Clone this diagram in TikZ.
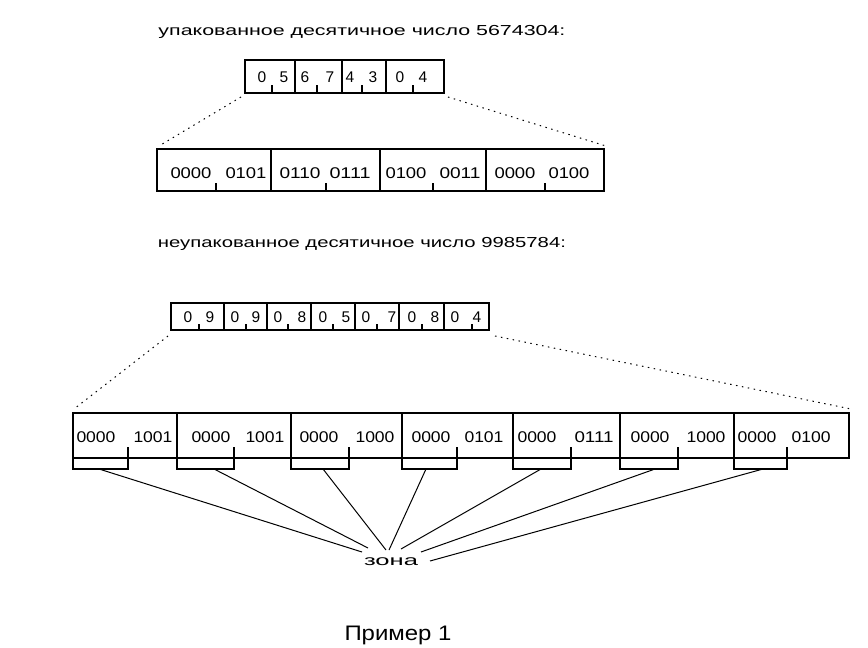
\documentclass[tikz,border=0pt]{standalone}
\usepackage{fontspec}
\setmainfont{Liberation Sans}
\usepackage{graphicx}
\newcommand{\sq}[2]{\resizebox{#1pt}{\height}{#2}}
\begin{document}
\begin{tikzpicture}[x=1pt,y=-1pt,
  every node/.style={inner sep=0pt, outer sep=0pt},
  ln/.style={line width=1.2pt},
  box/.style={draw, line width=1.2pt, anchor=north west},
  dotl/.style={line width=1pt, dash pattern=on 1.5pt off 4.5pt},
  small/.style={font=\fontsize{15.5}{17}\selectfont},
  dig/.style={small, anchor=center},
  lbl/.style={font=\fontsize{14.5}{16}\selectfont, anchor=base}]
\useasboundingbox (0,0) rectangle (868,648);

% titles
\node[lbl] (t1) at (362,35) {\sq{407}{упакованное десятичное число 5674304:}};
\node[lbl] (t2) at (362,247) {\sq{408}{неупакованное десятичное число 9985784:}};

% packed short box
\node[box, minimum width=199pt, minimum height=33pt] (pk) at (245,60) {};
\foreach \x in {295,342,386} \draw[ln] (\x,60) -- (\x,93);
\foreach \x in {272,317,362,413} \draw[ln] (\x,93) -- (\x,85);
\foreach \x/\d [count=\i] in {262/0,284/5,305/6,330/7,350/4,373/3,400/0,423/4}
  \node[dig] (pd\i) at (\x,77) {\d};

% packed long box
\node[box, minimum width=447pt, minimum height=42pt] (pl) at (157,149) {};
\foreach \x in {271,380,486} \draw[ln] (\x,149) -- (\x,191);
\foreach \x in {216,326,433,545} \draw[ln] (\x,191) -- (\x,183);
\foreach \x/\d [count=\i] in {191/0000,246/0101,300/0110,350/0111,406/0100,460/0011,515/0000,569/0100}
  \node[dig] (pg\i) at (\x,173) {\sq{41}{\d}};

% dotted expansion lines (packed)
\coordinate (a1) at (241,97);
\coordinate (a2) at (159,146);
\coordinate (a3) at (448,97);
\coordinate (a4) at (606,146);
\draw[dotl] (a1) -- (a2);
\draw[dotl] (a3) -- (a4);

% unpacked short box
\node[box, minimum width=318pt, minimum height=27pt] (uk) at (171,303) {};
\foreach \x in {224,267,311,355,399,444} \draw[ln] (\x,303) -- (\x,330);
\foreach \x in {199,246,288,333,377,422,472} \draw[ln] (\x,330) -- (\x,324);
\foreach \x/\d [count=\i] in {188/0,210/9,235/0,256/9,278/0,302/8,323/0,346/5,366/0,392/7,412/0,435/8,455/0,477/4}
  \node[dig] (ud\i) at (\x,317) {\d};

% unpacked long box
\node[box, minimum width=776pt, minimum height=45pt] (ul) at (73,413) {};
\foreach \x in {177,291,513,620,734} \draw[ln] (\x,413) -- (\x,458);
\draw[line width=1.8pt] (402,413) -- (402,458);
\foreach \l/\t in {73/128,177/234,291/349,402/457,513/571,620/678,734/787}
  \draw[ln] (\l,458) -- (\l,469) -- (\t,469) -- (\t,447);
\foreach \x/\d [count=\i] in {96/0000,153/1001,211/0000,265/1001,319/0000,375/1000,431/0000,484/0101,537/0000,594/0111,650/0000,706/1000,757/0000,811/0100}
  \node[dig] (ug\i) at (\x,437) {\sq{39}{\d}};

% dotted expansion lines (unpacked)
\coordinate (b1) at (168,336);
\coordinate (b2) at (74,409);
\coordinate (b3) at (495,336);
\coordinate (b4) at (851,409);
\draw[dotl] (b1) -- (b2);
\draw[dotl] (b3) -- (b4);

% zone label and lines
\node[lbl] (zona) at (391,565) {\sq{54}{зона}};
\foreach \x/\y/\ex/\ey [count=\i] in {99/469/362/552, 214/469/368/548, 323/469/386/550, 426/469/389/550, 541/469/401/549, 655/469/421/552, 763/469/430/561}{
  \coordinate (zs\i) at (\x,\y);
  \coordinate (ze\i) at (\ex,\ey);
  \draw[line width=1pt] (zs\i) -- (ze\i);
}

% caption
\node[font=\fontsize{21}{24}\selectfont, anchor=base] (cap) at (398,640) {\sq{107}{Пример 1}};
\end{tikzpicture}
\end{document}
